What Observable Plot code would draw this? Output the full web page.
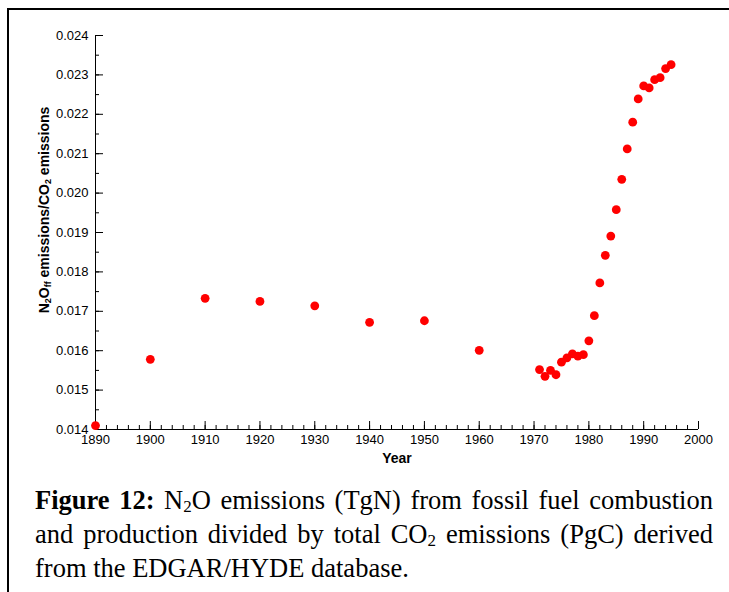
<!DOCTYPE html>
<html>
<head>
<meta charset="utf-8">
<script src="https://cdn.jsdelivr.net/npm/d3@7"></script>
<script src="https://cdn.jsdelivr.net/npm/@observablehq/plot@0.6"></script>
<style>
  html, body { margin: 0; padding: 0; background: #fff; }
  #wrap { position: relative; width: 729px; height: 592px; overflow: hidden; background: #fff; }
  #box { position: absolute; left: 7px; top: 8px; width: 740px; height: 600px; border-left: 2px solid #000; border-top: 2px solid #000; }
  #chart { position: absolute; left: 0; top: 0; }
  #ylab { position: absolute; left: 44px; top: 210px; transform: translate(-50%, -50%) rotate(-90deg); white-space: nowrap;
          font: bold 14px "Liberation Sans", Arial, sans-serif; color: #000; }
  #ylab sub { font-size: 9px; vertical-align: -2px; line-height: 0; }
  #xlab { position: absolute; left: 397px; top: 458px; transform: translate(-50%, -50%);
          font: bold 14px "Liberation Sans", Arial, sans-serif; color: #000; }
  #caption { position: absolute; left: 35px; top: 483px; width: 678px; text-align: justify;
             font: 26.5px/34px "Liberation Serif", "Times New Roman", serif; color: #000; }
  #caption sub { font-size: 17px; vertical-align: -3px; line-height: 0; }
</style>
</head>
<body>
<div id="wrap">
  <div id="box"></div>
  <div id="chart"></div>
  <div id="ylab">N<sub>2</sub>O<sub>ff</sub> emissions/CO<sub>2</sub> emissions</div>
  <div id="xlab">Year</div>
  <div id="caption"><b>Figure 12:</b> N<sub>2</sub>O emissions (TgN) from fossil fuel combustion and production divided by total CO<sub>2</sub> emissions (PgC) derived from the EDGAR/HYDE database.</div>
</div>
<script>
const years = [1890, 1900, 1910, 1920, 1930, 1940, 1950, 1960,
  1971, 1972, 1973, 1974, 1975, 1976, 1977, 1978, 1979, 1980,
  1981, 1982, 1983, 1984, 1985, 1986, 1987, 1988, 1989, 1990,
  1991, 1992, 1993, 1994, 1995];
const ratio = [0.01410, 0.01578, 0.01733, 0.01725, 0.01714, 0.01672, 0.01676, 0.01601,
  0.01552, 0.01535, 0.01550, 0.01539, 0.01571, 0.01582, 0.01592, 0.01586, 0.01590, 0.01625,
  0.01689, 0.01772, 0.01842, 0.01891, 0.01958, 0.02035, 0.02112, 0.02180, 0.02239, 0.02272,
  0.02267, 0.02288, 0.02293, 0.02316, 0.02326];
const xMajor = [1890, 1900, 1910, 1920, 1930, 1940, 1950, 1960, 1970, 1980, 1990, 2000];
const xMinor = d3.range(1890, 2001, 2);
const yMajor = [0.014, 0.015, 0.016, 0.017, 0.018, 0.019, 0.020, 0.021, 0.022, 0.023, 0.024];
const yMinor = d3.range(0, 21).map(i => 0.014 + i * 0.0005);

const data = years.map((y, i) => ({year: y, value: ratio[i]}));

const font = '"Liberation Sans", Arial, sans-serif';
const chart = Plot.plot({
  width: 729,
  height: 470,
  marginLeft: 95,
  marginRight: 31,
  marginTop: 35,
  marginBottom: 41,
  style: {fontFamily: font, fontSize: "13px", color: "#000", background: "transparent"},
  x: {domain: [1890, 2000]},
  y: {domain: [0.014, 0.024]},
  marks: [
    Plot.ruleX([1890], {stroke: "#000", strokeWidth: 1}),
    Plot.ruleY([0.014], {stroke: "#000", strokeWidth: 1}),
    Plot.axisX({ticks: xMinor, tickSize: -4, tickFormat: () => "", label: null}),
    Plot.axisX({ticks: xMajor, tickSize: -8, tickFormat: () => "", label: null}),
    Plot.axisX({ticks: xMajor, tickSize: 0, tickPadding: 5, tickFormat: d3.format("d"), label: null}),
    Plot.axisY({ticks: yMinor, tickSize: -4, tickFormat: () => "", label: null}),
    Plot.axisY({ticks: yMajor, tickSize: -8, tickFormat: () => "", label: null}),
    Plot.axisY({ticks: yMajor, tickSize: 0, tickPadding: 7, tickFormat: d3.format(".3f"), label: null}),
    Plot.dot(data, {x: "year", y: "value", r: 4.4, fill: "#ff0000", stroke: "none"})
  ]
});
document.getElementById("chart").appendChild(chart);
</script>
</body>
</html>
